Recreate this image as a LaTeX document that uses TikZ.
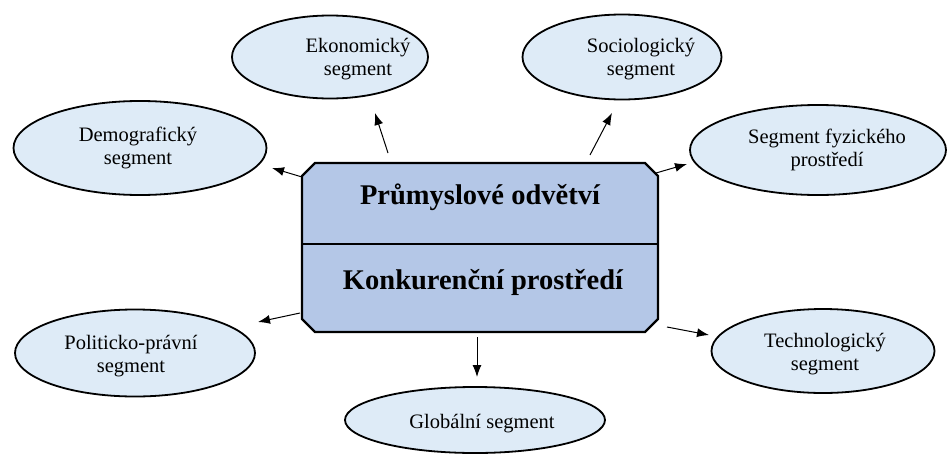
\documentclass[tikz,border=0pt]{standalone}
\usepackage{fontspec}
\setmainfont{Liberation Serif}
\newfontfamily\segfont{Liberation Serif}
\usetikzlibrary{shapes.geometric,arrows.meta}
\definecolor{boxfill}{HTML}{B4C7E7}
\definecolor{segfill}{HTML}{DEEBF7}
\begin{document}
\begin{tikzpicture}[x=1pt,y=-1pt,
  segment/.style={ellipse,draw=black,line width=1.8pt,fill=segfill,inner sep=0pt},
  segtext/.style={align=center,font=\segfont\fontsize{20.5}{23}\selectfont,inner sep=0pt},
  titletext/.style={font=\segfont\fontsize{28.5}{32}\selectfont\bfseries,inner sep=0pt},
  arr/.style={line width=1pt,-{Latex[length=12pt,width=9pt]}}]
\useasboundingbox (0,0) rectangle (949,455);

% central chamfered box
\fill[boxfill] (315,163) -- (645,163) -- (658,176) -- (658,319) -- (645,332)
  -- (315,332) -- (302,319) -- (302,176) -- cycle;
\draw[line width=2.2pt,line join=miter] (315,163) -- (645,163) -- (658,176) -- (658,319)
  -- (645,332) -- (315,332) -- (302,319) -- (302,176) -- cycle;
\draw[line width=2pt] (302,244) -- (658,244);
\node[titletext] (ind) at (480,197) {Průmyslové odvětví};
\node[titletext] (comp) at (483,282) {Konkurenční prostředí};

% segments of the environment
\node[segment,minimum width=196pt,minimum height=83pt] (eko) at (330,57) {};
\node[segtext] (ekot) at (358,59) {Ekonomický\\segment};

\node[segment,minimum width=199pt,minimum height=85pt] (soc) at (622,57) {};
\node[segtext] (soct) at (641,59) {Sociologický\\segment};

\node[segment,minimum width=253pt,minimum height=94pt] (dem) at (140,148) {};
\node[segtext] (demt) at (138,148) {Demografický\\segment};

\node[segment,minimum width=256pt,minimum height=90pt] (fyz) at (818,150) {};
\node[segtext] (fyzt) at (827,150) {Segment fyzického\\prostředí};

\node[segment,minimum width=240pt,minimum height=87pt] (pol) at (135,353) {};
\node[segtext] (polt) at (131,356) {Politicko-právní\\segment};

\node[segment,minimum width=223pt,minimum height=84pt] (tech) at (823,351) {};
\node[segtext] (techt) at (825,354) {Technologický\\segment};

\node[segment,minimum width=260pt,minimum height=66pt] (glob) at (475,420) {};
\node[segtext] (globt) at (482,424) {Globální segment};

% arrow ends
\coordinate (e1) at (388,153); \coordinate (e2) at (375,113);
\coordinate (s1) at (590,155); \coordinate (s2) at (612,113);
\coordinate (d1) at (302,177); \coordinate (d2) at (272,168);
\coordinate (f1) at (656,173); \coordinate (f2) at (687,164);
\coordinate (p1) at (300,313); \coordinate (p2) at (258,322);
\coordinate (t1) at (667,327); \coordinate (t2) at (709,335);
\coordinate (g1) at (477,337); \coordinate (g2) at (477,377);

\draw[arr] (e1) -- (e2);
\draw[arr] (s1) -- (s2);
\draw[arr] (d1) -- (d2);
\draw[arr] (f1) -- (f2);
\draw[arr] (p1) -- (p2);
\draw[arr] (t1) -- (t2);
\draw[arr] (g1) -- (g2);
\end{tikzpicture}
\end{document}
